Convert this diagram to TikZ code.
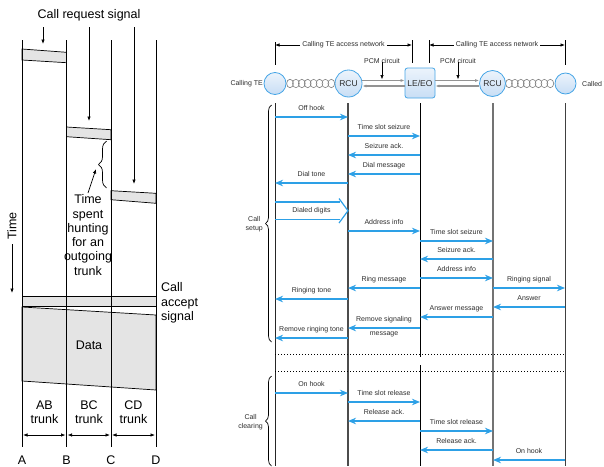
\documentclass[tikz,border=0pt]{standalone}
\usepackage{fontspec}
\setmainfont{Liberation Sans}
\usetikzlibrary{arrows.meta,decorations.pathreplacing,calc}
\definecolor{arrowblue}{RGB}{45,160,230}
\definecolor{nodeblue}{RGB}{70,165,230}
\definecolor{nodefill}{RGB}{200,222,245}
\definecolor{bandgray}{RGB}{228,228,228}
\definecolor{txtgray}{RGB}{45,45,45}
\newcommand{\msg}[5]{%
  \path (0,#4) coordinate (y#1);
  \draw[msg] (#2 |- y#1) -- (#3 |- y#1) node[msglab, midway, yshift=8pt] (#1) {#5};}
\begin{document}
\begin{tikzpicture}[x=1pt,y=-1pt,
  big/.style={font=\fontsize{12.5}{14.3}\selectfont, inner sep=0pt},
  small/.style={font=\fontsize{7}{8.6}\selectfont, text=txtgray, inner sep=0pt},
  msglab/.style={small, text height=5pt, text depth=1.5pt},
  msg/.style={draw=arrowblue, line width=1.2pt, -{Stealth[length=8pt,width=6.5pt,inset=2.5pt]}},
  thin/.style={draw=black, line width=0.7pt},
  band/.style={fill=bandgray, draw=black, line width=0.7pt},
  blk/.style={-{Latex[length=4.5pt,width=3.5pt]}, draw=black, line width=0.7pt},
  dbl/.style={{Latex[length=4.5pt,width=3.5pt]}-{Latex[length=4.5pt,width=3.5pt]}, draw=black, line width=0.7pt},
  circ/.style={circle, draw=nodeblue, line width=0.8pt, top color=nodefill!35, bottom color=nodefill, inner sep=0pt},
  lebox/.style={rectangle, rounded corners=2.5pt, draw=nodeblue, line width=0.8pt, top color=nodefill!35, bottom color=nodefill, minimum width=30pt, minimum height=30pt, inner sep=0pt},
  nodetxt/.style={font=\fontsize{8.5}{10}\selectfont, text=txtgray},
  chainc/.style={draw=gray, line width=0.6pt},
  pcm/.style={draw=gray!85, line width=1.1pt, -{Latex[length=4pt,width=3pt]}},
  life/.style={line width=0.8pt},
  dots/.style={draw=black, line width=0.7pt, dash pattern=on 1.2pt off 1.8pt},
  brc/.style={draw=black, line width=0.7pt, decorate},
]
\useasboundingbox (0,0) rectangle (604,466);
\clip (0,0) rectangle (604,466);

% ================= LEFT DIAGRAM =================
\filldraw[band] (22,49) -- (66.5,52.3) -- (66.5,62.7) -- (22,60) -- cycle;
\filldraw[band] (66.5,127) -- (111,129.7) -- (111,139.7) -- (66.5,136.7) -- cycle;
\filldraw[band] (111,190.7) -- (156,193.3) -- (156,203.3) -- (111,199.7) -- cycle;
\filldraw[band] (22,296) rectangle (156,306);
\filldraw[band] (22,307) -- (156,315) -- (156,390) -- (22,381) -- cycle;

\coordinate (At) at (22,40);   \coordinate (Ab) at (22,447);
\coordinate (Bt) at (66.5,40); \coordinate (Bb) at (66.5,447);
\coordinate (Ct) at (111,40);  \coordinate (Cb) at (111,447);
\coordinate (Dt) at (156,40);  \coordinate (Db) at (156,447);
\draw[thin] (At) -- (Ab);
\draw[thin] (Bt) -- (Bb);
\draw[thin] (Ct) -- (Cb);
\draw[thin] (Dt) -- (Db);

\node[big] (crs) at (89,15) {Call request signal};
\coordinate (r1s) at (43,27);  \coordinate (r1e) at (43,44);
\coordinate (r2s) at (89,27);  \coordinate (r2e) at (89,121);
\coordinate (r3s) at (134,27); \coordinate (r3e) at (134,184);
\draw[blk] (r1s) -- (r1e);
\draw[blk] (r2s) -- (r2e);
\draw[blk] (r3s) -- (r3e);

\coordinate (brb) at (106.5,188);
\coordinate (brt) at (106.5,141);
\draw[brc, decoration={brace, amplitude=8pt}] (brb) -- (brt);
\node[big, align=center] (hunt) at (88,235) {Time\\spent\\hunting\\for an\\outgoing\\trunk};
\coordinate (harr) at (96,169);
\draw[blk] (88,193) -- (harr);

\node[big, rotate=90] (time) at (12,226) {Time};
\coordinate (timeE) at (12,293);
\draw[blk] (12,244) -- (timeE);

\node[big, anchor=west, align=left] (cas) at (161,303) {Call\\accept\\signal};
\node[big] (data) at (89,345) {Data};

\node[big, align=center] (ab) at (44.5,412) {AB\\trunk};
\node[big, align=center] (bc) at (89,412) {BC\\trunk};
\node[big, align=center] (cd) at (133.5,412) {CD\\trunk};
\draw[dbl] (23,435) -- (65.5,435);
\draw[dbl] (67.5,435) -- (110,435);
\draw[dbl] (112,435) -- (155,435);

\node[big] (la) at (22,460) {A};
\node[big] (lb) at (66.5,460) {B};
\node[big] (lc) at (111,460) {C};
\node[big] (ld) at (156,460) {D};

% ================= RIGHT DIAGRAM =================
% header bars
\draw[thin] (275,42) -- (275,65);
\draw[thin] (412,40) -- (412,63);
\draw[thin] (429,40) -- (429,63);
\draw[thin] (565,40) -- (565,65);
\node[small, fill=white, inner xsep=2pt, inner ysep=1pt] (acc1) at (343.5,45) {Calling TE access network};
\node[small, fill=white, inner xsep=2pt, inner ysep=1pt] (acc2) at (497,45) {Calling TE access network};
\coordinate (acc1l) at (275,45); \coordinate (acc1r) at (412,45);
\coordinate (acc2l) at (429,45); \coordinate (acc2r) at (565,45);
\draw[blk] (acc1.west) -- (acc1l);
\draw[blk] (acc1.east) -- (acc1r);
\draw[blk] (acc2.west) -- (acc2l);
\draw[blk] (acc2.east) -- (acc2r);

% chains
\foreach \i in {0,...,7} {
  \draw[chainc] (290+5.9*\i,83.5) ellipse [x radius=3.4pt, y radius=4.2pt];
  \draw[chainc] (509+5.9*\i,83.5) ellipse [x radius=3.4pt, y radius=4.2pt];
}

% nodes
\node[circ, minimum size=22pt] (cte) at (275,83.5) {};
\node[circ, minimum size=27pt, nodetxt] (rcu1) at (348.5,83.5) {RCU};
\node[lebox, nodetxt] (le) at (420,83) {LE/EO};
\node[circ, minimum size=26pt, nodetxt] (rcu2) at (492.5,83.5) {RCU};
\node[circ, minimum size=21pt] (dte) at (565.5,83.5) {};
\node[small, anchor=east] (ctel) at (263,84) {Calling TE};
\node[small, anchor=west] (dtel) at (582,84) {Called TE};

% PCM circuits
\path (0,80.5) coordinate (pu) (0,86) coordinate (pl);
\draw[pcm] (rcu1.east |- pu) -- (le.west |- pu);
\draw[pcm] (le.west |- pl) -- (rcu1.east |- pl);
\draw[pcm] (le.east |- pu) -- (rcu2.west |- pu);
\draw[pcm] (rcu2.west |- pl) -- (le.east |- pl);
\node[small] (pcm1) at (382,61) {PCM circuit};
\node[small] (pcm2) at (458,61) {PCM circuit};
\coordinate (pcm1e) at (382,79.5);
\coordinate (pcm2e) at (458,79.5);
\draw[blk] (pcm1.south) ++(0,-1.5) -- (pcm1e);
\draw[blk] (pcm2.south) ++(0,-1.5) -- (pcm2e);

% lifelines
\coordinate (L1) at (275,103); \coordinate (E1) at (275,466);
\coordinate (L2) at (348,103); \coordinate (E2) at (348,466);
\coordinate (L3) at (420,103); \coordinate (E3) at (420,466);
\coordinate (L4) at (493,103); \coordinate (E4) at (493,466);
\coordinate (L5) at (565,103); \coordinate (E5) at (565,466);
\coordinate (G3a) at (420,357); \coordinate (G3b) at (420,365);
\draw[life, draw=black!85] (L1) -- (E1);
\draw[life, draw=black!70, line width=1.1pt] (L2) -- (E2);
\draw[life, draw=black] (L3) -- (G3a);
\draw[life, draw=black] (G3b) -- (E3);
\draw[life, draw=black!55, line width=1.4pt] (L4) -- (E4);
\draw[life, draw=black!75] (L5) -- (E5);

% dotted separators
\path (0,354) coordinate (d1) (0,371) coordinate (d2);
\draw[dots] (L1 |- d1) -- (L5 |- d1);
\draw[dots] (L1 |- d2) -- (L5 |- d2);

% messages
\msg{m1}{L1}{L2}{117}{Off hook}
\msg{m2}{L2}{L3}{136}{Time slot seizure}
\msg{m3}{L3}{L2}{155}{Seizure ack.}
\msg{m4}{L3}{L2}{174}{Dial message}
\msg{m5}{L2}{L1}{183}{Dial tone}
\msg{m6}{L2}{L3}{231}{Address info}
\msg{m7}{L3}{L4}{241}{Time slot seizure}
\msg{m8}{L4}{L3}{259}{Seizure ack.}
\msg{m9}{L3}{L4}{278}{Address info}
\msg{m10}{L3}{L2}{288}{Ring message}
\msg{m11}{L4}{L5}{288}{Ringing signal}
\msg{m12}{L2}{L1}{299}{Ringing tone}
\msg{m13}{L5}{L4}{307}{Answer}
\msg{m14}{L4}{L3}{317}{Answer message}
\msg{m15}{L3}{L2}{328}{Remove signaling}
\node[msglab] (m15b) at (384,333.5) {message};
\msg{m16}{L2}{L1}{338}{Remove ringing tone}
\msg{m17}{L1}{L2}{393}{On hook}
\msg{m18}{L2}{L3}{402}{Time slot release}
\msg{m19}{L3}{L2}{421}{Release ack.}
\msg{m20}{L3}{L4}{431}{Time slot release}
\msg{m21}{L4}{L3}{450}{Release ack.}
\msg{m22}{L5}{L4}{460}{On hook}

% dialed digits (open arrow)
\draw[draw=arrowblue, line width=1.2pt] (275,202) -- (340,202);
\draw[draw=arrowblue, line width=1.2pt] (275,219.5) -- (340,219.5);
\draw[draw=arrowblue, line width=1.2pt, line join=miter] (339,198.5) -- (L2 |- 0,210.75) -- (339,223);
\node[msglab] (dd) at (311.5,211) {Dialed digits};

% braces
\coordinate (sb) at (271.5,342); \coordinate (st) at (271.5,105);
\draw[brc, decoration={brace, amplitude=6pt}] (sb) -- (st);
\node[small, align=center, anchor=east] (setup) at (263,224) {Call\\setup};
\coordinate (cb) at (271.5,466); \coordinate (ct) at (271.5,376);
\draw[brc, decoration={brace, amplitude=6pt}] (cb) -- (ct);
\node[small, align=center, anchor=east] (clear) at (263,422) {Call\\clearing};
\end{tikzpicture}
\end{document}
